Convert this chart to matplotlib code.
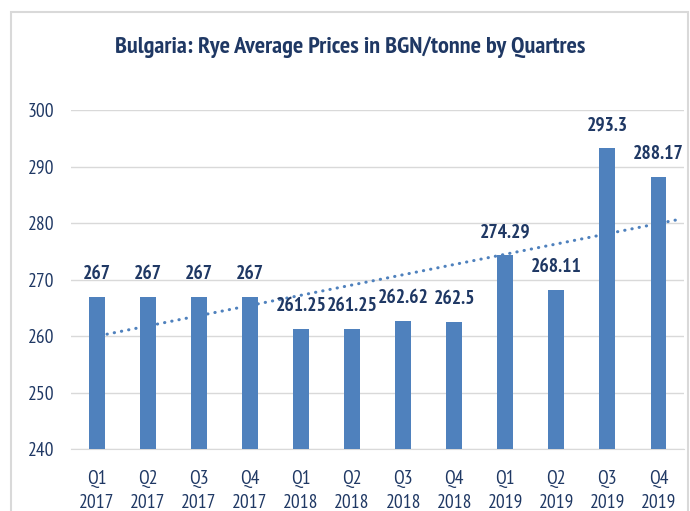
import matplotlib
matplotlib.use('Agg')
import matplotlib.pyplot as plt
import matplotlib.patches as mpatches
import numpy as np

# data
quarters = ['Q1', 'Q2', 'Q3', 'Q4', 'Q1', 'Q2', 'Q3', 'Q4', 'Q1', 'Q2', 'Q3', 'Q4']
years = ['2017', '2017', '2017', '2017', '2018', '2018', '2018', '2018', '2019', '2019', '2019', '2019']
prices = [267, 267, 267, 267, 261.25, 261.25, 262.62, 262.5, 274.29, 268.11, 293.3, 288.17]
price_labels = ['267', '267', '267', '267', '261.25', '261.25', '262.62', '262.5', '274.29', '268.11', '293.3', '288.17']
yticks = [240, 250, 260, 270, 280, 290, 300]

navy = '#1F3864'
bar_col = '#4F81BD'
fnt = ['PT Sans Narrow', 'DejaVu Sans']

fig = plt.figure(figsize=(6.9, 5.11), dpi=100)
# chart frame
fig.patches.append(mpatches.Rectangle((10.5 / 690, -0.05), 677 / 690, 1.05 - 12.5 / 511,
                                      transform=fig.transFigure, fill=False,
                                      edgecolor='#D9D9D9', linewidth=1.5))
ax = fig.add_axes([0.1033, 0.1213, 0.888, 0.663])

x = np.arange(len(prices))
ax.bar(x, prices, width=0.31, color=bar_col, zorder=3)

# linear trendline
k, b = np.polyfit(x, prices, 1)
xt = np.linspace(0.2, 11.4, 50)
ax.plot(xt, k * xt + b, linestyle=(0, (0.1, 2.3)), dash_capstyle='round', color=bar_col,
        linewidth=2.2, zorder=4)

for xi, yi, lab in zip(x, prices, price_labels):
    ax.annotate(lab, (xi, yi), xytext=(0, 10), textcoords='offset points', ha='center',
                va='bottom', fontsize=14, fontweight='bold', color=navy, family=fnt, zorder=5)

ax.set_ylim(240, 300)
ax.set_xlim(-0.5, 11.5)
ax.set_yticks(yticks)
ax.set_yticklabels([str(t) for t in yticks], family=fnt, fontsize=14, color=navy)
ax.set_xticks(x)
ax.set_xticklabels([q + '\n' + y for q, y in zip(quarters, years)], family=fnt, fontsize=14,
                   color=navy, linespacing=1.45)
ax.tick_params(axis='both', length=0)
ax.tick_params(axis='x', pad=15)
ax.tick_params(axis='y', pad=12)
ax.grid(axis='y', color='#D9D9D9', linewidth=1, zorder=0)
for s in ['top', 'right', 'left']:
    ax.spines[s].set_visible(False)
ax.spines['bottom'].set_color('#D9D9D9')

fig.text(0.507, 1 - 53 / 511, 'Bulgaria: Rye Average Prices in BGN/tonne by Quartres', ha='center',
         va='baseline', fontsize=17.5, fontweight='bold', color=navy, family=fnt)

plt.savefig('out.png', dpi=100)
plt.close()
